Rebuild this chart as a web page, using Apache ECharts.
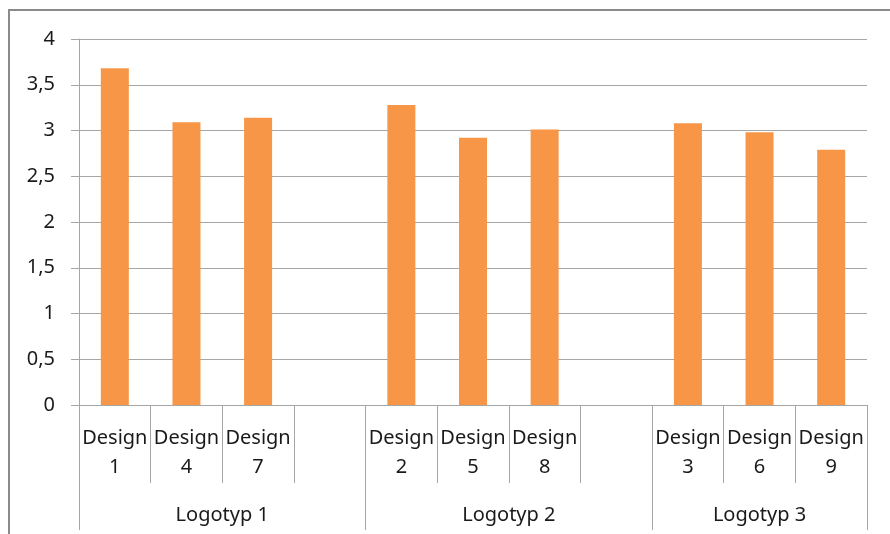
<!DOCTYPE html>
<html>
<head>
<meta charset="utf-8">
<script src="https://cdn.jsdelivr.net/npm/echarts@6/dist/echarts.min.js"></script>
<style>
  html, body { margin: 0; padding: 0; background: #fff; }
  #chart { width: 890px; height: 534px; }
</style>
</head>
<body>
<div id="chart"></div>
<script>
// categories (empty slots separate the groups)
const designs = ['Design\n1', 'Design\n4', 'Design\n7', '', 'Design\n2', 'Design\n5', 'Design\n8', '', 'Design\n3', 'Design\n6', 'Design\n9'];
const scores = [3.68, 3.09, 3.14, null, 3.28, 2.92, 3.01, null, 3.08, 2.98, 2.79];
// group labels and where they sit on the slot scale (0..11)
const groupNames = ['Logotyp 1', 'Logotyp 2', 'Logotyp 3'];
const groupCenters = [2, 6, 9.5];
const groupEdges = [0, 4, 8, 11];
const yTicks = [0, 0.5, 1, 1.5, 2, 2.5, 3, 3.5, 4];

const chart = echarts.init(document.getElementById('chart'));
const font = '"Noto Sans", sans-serif';
const lineCol = '#a6a6a6';

const option = {
  backgroundColor: '#fff',
  animation: false,
  graphic: [{
    type: 'rect',
    shape: { x: 9, y: 10, width: 1000, height: 1000 },
    style: { fill: 'none', stroke: '#8a8a8a', lineWidth: 2 }
  }],
  grid: { left: 79, right: 23, top: 39, bottom: 129 },
  xAxis: [
    {
      type: 'category',
      data: designs,
      boundaryGap: true,
      axisLine: { lineStyle: { color: lineCol } },
      axisTick: { show: true, interval: 0, length: 78, lineStyle: { color: lineCol } },
      axisLabel: {
        interval: 0, margin: 19, color: '#1a1a1a', fontFamily: font, fontSize: 20, lineHeight: 29
      },
      splitLine: { show: false }
    },
    {
      type: 'value',
      position: 'bottom',
      min: 0, max: 11,
      axisLine: { show: false },
      axisTick: { show: true, customValues: groupEdges, length: 125, lineStyle: { color: lineCol } },
      axisLabel: {
        customValues: groupCenters,
        margin: 100,
        color: '#1a1a1a', fontFamily: font, fontSize: 20,
        formatter: function (v) {
          const i = groupCenters.indexOf(v);
          return i >= 0 ? groupNames[i] : '';
        }
      },
      splitLine: { show: false }
    }
  ],
  yAxis: {
    type: 'value',
    min: 0, max: 4, interval: 0.5,
    axisLine: { show: true, lineStyle: { color: lineCol } },
    axisTick: { show: true, length: 8, lineStyle: { color: lineCol } },
    axisLabel: {
      margin: 24, color: '#1a1a1a', fontFamily: font, fontSize: 20,
      formatter: function (v) { return yTicks.indexOf(v) >= 0 ? String(v).replace('.', ',') : ''; }
    },
    splitLine: { lineStyle: { color: lineCol } }
  },
  series: [{
    type: 'bar',
    xAxisIndex: 0,
    data: scores,
    barWidth: 28,
    itemStyle: { color: '#F79646' }
  }]
};
chart.setOption(option);
</script>
</body>
</html>
